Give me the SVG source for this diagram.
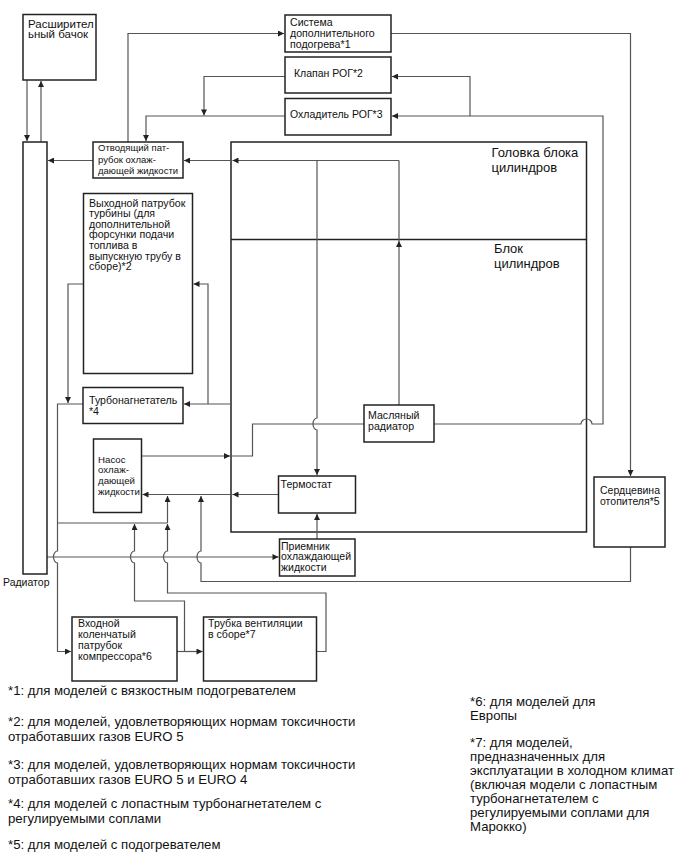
<svg xmlns="http://www.w3.org/2000/svg" width="687" height="854" viewBox="0 0 687 854">
<style>
.box{fill:#fff;stroke:#222;stroke-width:1.5}
.c{fill:none;stroke:#555;stroke-width:1.2}
.t{font-family:"Liberation Sans",Arial,sans-serif;font-size:10.6px;fill:#111}
.big{font-size:13px}
.fn{font-family:"Liberation Sans",Arial,sans-serif;font-size:13.2px;fill:#111}
</style>
<defs>
<marker id="a" viewBox="0 0 10 10" refX="10" refY="5" markerWidth="8" markerHeight="6" orient="auto" markerUnits="userSpaceOnUse"><path d="M0,0L10,5L0,10z" fill="#222"/></marker>
</defs>
<rect width="687" height="854" fill="#fff"/>

<g id="engine">
<rect class="box" x="231" y="142" width="355.5" height="390" fill="none"/>
<line x1="231" y1="239.5" x2="586.5" y2="239.5" stroke="#222" stroke-width="1.5"/>
<text class="t big" x="491.5" y="156.5">Головка блока</text>
<text class="t big" x="491.5" y="171.5">цилиндров</text>
<text class="t big" x="494" y="252.5">Блок</text>
<text class="t big" x="494" y="267.5">цилиндров</text>
</g>

<g id="connectors">
<path class="c" d="M27,80V141" marker-end="url(#a)"/>
<path class="c" d="M41,142V81" marker-end="url(#a)"/>
<path class="c" d="M93,160.5H48" marker-end="url(#a)"/>
<path class="c" d="M231,160.5H184" marker-end="url(#a)"/>
<path class="c" d="M399,160.5H232.5" marker-end="url(#a)"/>
<path class="c" d="M317,160.5V418a4,6 0 0 0 0,12V475" marker-end="url(#a)"/>
<path class="c" d="M399,405V241" marker-end="url(#a)"/>
<path class="c" d="M399,241V160.5"/>
<path class="c" d="M128,142V33.5H284" marker-end="url(#a)"/>
<path class="c" d="M391,33.5H630.5V476" marker-end="url(#a)"/>
<path class="c" d="M434,424H581a5.5,5 0 0 1 11,0H603V116H392" marker-end="url(#a)"/>
<path class="c" d="M470,116V76.5H392" marker-end="url(#a)"/>
<path class="c" d="M285,76.5H204V115.5" marker-end="url(#a)"/>
<path class="c" d="M285,116H146V141" marker-end="url(#a)"/>
<path class="c" d="M83.5,284H68V403" marker-end="url(#a)"/>
<path class="c" d="M231,404H184" marker-end="url(#a)"/>
<path class="c" d="M208,404V284H193.5" marker-end="url(#a)"/>
<path class="c" d="M83,404H57.5V551a4,6 0 0 0 0,12V651.5H71" marker-end="url(#a)"/>
<path class="c" d="M57.5,523H167.5"/>
<path class="c" d="M141.5,456H230" marker-end="url(#a)"/>
<path class="c" d="M230,456H252.5V424H364"/>
<path class="c" d="M278.5,494.5H232.5" marker-end="url(#a)"/>
<path class="c" d="M232.5,494.5H142.5" marker-end="url(#a)"/>
<path class="c" d="M317,539V514" marker-end="url(#a)"/>
<path class="c" d="M47,557H278.5" marker-end="url(#a)"/>
<path class="c" d="M317,651.5H326V593H167.5V563a4,6 0 0 1 0,-12V524" marker-end="url(#a)"/>
<path class="c" d="M167.5,523V496" marker-end="url(#a)"/>
<path class="c" d="M184.5,651.5V601H134.5V563a4,6 0 0 1 0,-12V524" marker-end="url(#a)"/>
<path class="c" d="M177,651.5H202.5" marker-end="url(#a)"/>
<path class="c" d="M630.5,547V581.5H201V563a4,6 0 0 1 0,-12V496" marker-end="url(#a)"/>
</g>

<g id="tank">
<rect class="box" x="23" y="14.5" width="73" height="65.5"/>
<text class="t" style="font-size:11.5px" x="28" y="27.5">Расширител</text>
<text class="t" style="font-size:11.5px" x="28" y="38">ьный бачок</text>
</g>
<g id="radiator">
<rect class="box" x="23" y="142" width="24" height="432"/>
<text class="t" style="font-size:10.5px" x="3" y="585.5">Радиатор</text>
</g>
<g id="sistema">
<rect class="box" x="285" y="15" width="106" height="37"/>
<text class="t" x="290" y="26">Система</text>
<text class="t" x="290" y="37">дополнительного</text>
<text class="t" x="290" y="47.5">подогрева*1</text>
</g>
<g id="klapan">
<rect class="box" x="285" y="57" width="106" height="36"/>
<text class="t" style="font-size:10.5px" x="294" y="76.5">Клапан РОГ*2</text>
</g>
<g id="ohladitel">
<rect class="box" x="285" y="98.5" width="106" height="36.5"/>
<text class="t" style="font-size:10.5px" x="290" y="118">Охладитель РОГ*3</text>
</g>
<g id="otvod">
<rect class="box" x="93" y="142" width="90" height="36"/>
<text class="t" style="font-size:9.5px" x="98" y="151">Отводящий пат-</text>
<text class="t" style="font-size:9.5px" x="98" y="162.5">рубок охлаж-</text>
<text class="t" style="font-size:9.5px" x="98" y="173.5">дающей жидкости</text>
</g>
<g id="vyhod">
<rect class="box" x="83.5" y="193.5" width="109" height="180"/>
<text class="t" x="89" y="206.5">Выходной патрубок</text>
<text class="t" x="89" y="217">турбины (для</text>
<text class="t" x="89" y="227.5">дополнительной</text>
<text class="t" x="89" y="238">форсунки подачи</text>
<text class="t" x="89" y="248.5">топлива в</text>
<text class="t" x="89" y="259.5">выпускную трубу в</text>
<text class="t" x="89" y="270">сборе)*2</text>
</g>
<g id="turbo">
<rect class="box" x="83" y="387.5" width="100" height="36"/>
<text class="t" x="89" y="403.5">Турбонагнетатель</text>
<text class="t" x="89" y="415">*4</text>
</g>
<g id="nasos">
<rect class="box" x="93.5" y="439" width="48" height="73.5"/>
<text class="t" style="font-size:9.7px" x="98" y="462.5">Насос</text>
<text class="t" style="font-size:9.7px" x="98" y="473">охлаж-</text>
<text class="t" style="font-size:9.7px" x="98" y="483.5">дающей</text>
<text class="t" style="font-size:9.7px" x="98" y="494.5">жидкости</text>
</g>
<g id="maslo">
<rect class="box" x="364" y="405" width="70" height="37"/>
<text class="t" x="368" y="418.5">Масляный</text>
<text class="t" x="368" y="429.5">радиатор</text>
</g>
<g id="termostat">
<rect class="box" x="278.5" y="476" width="77" height="37"/>
<text class="t" x="280.5" y="487.5">Термостат</text>
</g>
<g id="priemnik">
<rect class="box" x="279.5" y="539" width="75.5" height="37"/>
<text class="t" style="font-size:10.5px" x="281" y="549.5">Приемник</text>
<text class="t" style="font-size:10.5px" x="281" y="560">охлаждающей</text>
<text class="t" style="font-size:10.5px" x="281" y="570.5">жидкости</text>
</g>
<g id="serdtsevina">
<rect class="box" x="594" y="477" width="71" height="70"/>
<text class="t" style="font-size:10.5px" x="600" y="493.5">Сердцевина</text>
<text class="t" style="font-size:10.5px" x="600" y="504.5">отопителя*5</text>
</g>
<g id="vhodnoy">
<rect class="box" x="72" y="617" width="105" height="64"/>
<text class="t" x="78" y="627">Входной</text>
<text class="t" x="78" y="638">коленчатый</text>
<text class="t" x="78" y="648.5">патрубок</text>
<text class="t" x="78" y="659.5">компрессора*6</text>
</g>
<g id="trubka">
<rect class="box" x="203.5" y="617" width="113" height="64"/>
<text class="t" x="208" y="627">Трубка вентиляции</text>
<text class="t" x="208" y="638">в сборе*7</text>
</g>

<g id="notes">
<text class="fn" x="8" y="695">*1: для моделей с вязкостным подогревателем</text>
<text class="fn" x="8" y="726">*2: для моделей, удовлетворяющих нормам токсичности</text>
<text class="fn" x="8" y="741">отработавших газов EURO 5</text>
<text class="fn" x="8" y="769">*3: для моделей, удовлетворяющих нормам токсичности</text>
<text class="fn" x="8" y="784">отработавших газов EURO 5 и EURO 4</text>
<text class="fn" x="8" y="808">*4: для моделей с лопастным турбонагнетателем с</text>
<text class="fn" x="8" y="823">регулируемыми соплами</text>
<text class="fn" x="8" y="849">*5: для моделей с подогревателем</text>
<text class="fn" x="470" y="706">*6: для моделей для</text>
<text class="fn" x="470" y="720">Европы</text>
<text class="fn" x="470" y="747">*7: для моделей,</text>
<text class="fn" x="470" y="761">предназначенных для</text>
<text class="fn" x="470" y="775">эксплуатации в холодном климат</text>
<text class="fn" x="470" y="789">(включая модели с лопастным</text>
<text class="fn" x="470" y="803">турбонагнетателем с</text>
<text class="fn" x="470" y="817">регулируемыми соплами для</text>
<text class="fn" x="470" y="831">Марокко)</text>
</g>
</svg>
